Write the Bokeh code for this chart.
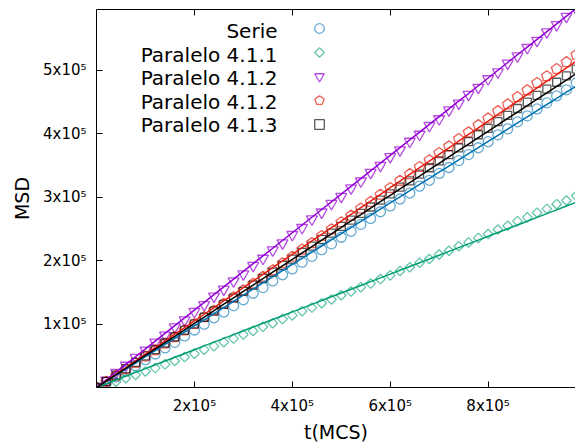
import numpy as np
from bokeh.plotting import figure
from bokeh.models import Range1d, LinearAxis, FixedTicker, Legend, LegendItem, Label
from bokeh.embed import file_html
from bokeh.resources import INLINE

# ---------------- data ----------------
t_mcs = [0, 20000, 40000, 60000, 80000, 100000, 120000, 140000, 160000, 180000,
         200000, 220000, 240000, 260000, 280000, 300000, 320000, 340000, 360000, 380000,
         400000, 420000, 440000, 460000, 480000, 500000, 520000, 540000, 560000, 580000,
         600000, 620000, 640000, 660000, 680000, 700000, 720000, 740000, 760000, 780000,
         800000, 820000, 840000, 860000, 880000, 900000, 920000, 940000, 960000, 980000]

msd_serie = [0, 8100, 16600, 25700, 34400, 43900, 52800, 62400, 71200, 81300,
             90700, 99800, 109900, 119000, 129200, 138300, 148600, 157500, 168000, 177800,
             186900, 197600, 206800, 217300, 226500, 236900, 246300, 257200, 266600, 277100,
             286300, 297200, 306600, 317500, 326700, 337600, 346900, 357800, 367200, 378000,
             387600, 398400, 407800, 418900, 428300, 439200, 448800, 459700, 469300, 480300]

msd_p411 = [0, 4400, 9200, 14600, 19700, 25300, 30600, 36500, 41900, 48000,
            53400, 59700, 65200, 71500, 77100, 83500, 89100, 95700, 101400, 107900,
            113700, 120400, 126000, 132900, 138700, 145500, 151300, 158200, 163900, 171000,
            176800, 183800, 189700, 196700, 202600, 209700, 215600, 222800, 228700, 235900,
            241900, 249100, 255000, 262300, 268300, 275600, 281600, 289000, 294900, 302300]

msd_p412a = [0, 11500, 23600, 34800, 47300, 58600, 71200, 82400, 95400, 106500,
             119600, 130500, 143800, 154900, 167900, 179000, 192300, 203500, 216600, 227700,
             241000, 252000, 265500, 276400, 289900, 301000, 314500, 325300, 338900, 350000,
             363800, 374500, 388000, 399000, 412800, 423500, 437500, 448200, 462000, 473000,
             486500, 497500, 511200, 522500, 535800, 547000, 560500, 572000, 585000, 597000]

msd_p412b = [0, 9200, 18700, 28900, 38600, 49000, 58900, 69500, 79400, 90200,
             100200, 111100, 121100, 132200, 142300, 153300, 163500, 174600, 184800, 196000,
             206200, 217500, 227700, 239000, 249400, 260600, 271000, 282300, 292700, 304000,
             314600, 325900, 336400, 347700, 358300, 369700, 380300, 391700, 402300, 413700,
             424300, 435800, 446400, 457900, 468600, 480100, 490800, 502300, 513000, 524500]

msd_p413 = [0, 9800, 19600, 29800, 39600, 49900, 59800, 70200, 80000, 90400,
            100300, 110800, 120700, 131200, 141000, 151600, 161500, 172100, 182000, 192500,
            202500, 213000, 223000, 233600, 243500, 254100, 264000, 274700, 284600, 295300,
            305200, 315900, 325800, 336500, 346500, 357200, 367100, 377800, 387800, 398500,
            408500, 419200, 429200, 439900, 449900, 460600, 470600, 481300, 491200, 502000]

# slopes of the fitted lines MSD = a * t
fit_slopes = [0.485, 0.298, 0.610, 0.525, 0.505]

series_names = ["Serie", "Paralelo 4.1.1", "Paralelo 4.1.2", "Paralelo 4.1.2", "Paralelo 4.1.3"]

x_ticks = [200000, 400000, 600000, 800000]
x_tick_labels = ["2x10\u2075", "4x10\u2075", "6x10\u2075", "8x10\u2075"]
y_ticks = [100000, 200000, 300000, 400000, 500000]
y_tick_labels = ["1x10\u2075", "2x10\u2075", "3x10\u2075", "4x10\u2075", "5x10\u2075"]

# ---------------- styles ----------------
FONT = "DejaVu Sans"
colors = ["#0072b2", "#009e73", "#9400d3", "#e51e10", "#000000"]
marker_alpha = [0.6, 0.6, 0.7, 0.7, 0.65]

p = figure(frame_width=479, frame_height=378, output_backend="svg", toolbar_location=None,
           title=None,
           x_range=Range1d(0, 978500), y_range=Range1d(0, 596000),
           min_border_left=96, min_border_right=0, min_border_top=9, min_border_bottom=30,
           x_axis_label="t(MCS)", y_axis_label="MSD")
p.outline_line_color = None
p.xgrid.visible = False
p.ygrid.visible = False
p.background_fill_color = "white"
p.border_fill_color = "white"

for ax, ticks, labels in ((p.xaxis[0], x_ticks, x_tick_labels), (p.yaxis[0], y_ticks, y_tick_labels)):
    ax.ticker = FixedTicker(ticks=ticks)
    ax.major_label_overrides = {float(k): v for k, v in zip(ticks, labels)}
    ax.major_tick_in = 6
    ax.major_tick_out = 0
    ax.minor_tick_line_color = None
    ax.major_tick_line_color = "black"
    ax.axis_line_color = "black"
    ax.major_label_text_font = FONT
    ax.major_label_text_font_size = "15px"
    ax.major_label_text_color = "black"
    ax.axis_label_text_font = FONT
    ax.axis_label_text_font_size = "19px"
    ax.axis_label_text_font_style = "normal"
    ax.axis_label_text_color = "black"

p.xaxis[0].major_label_standoff = 9
p.xaxis[0].axis_label_standoff = 3
p.yaxis[0].major_label_standoff = 10
p.yaxis[0].axis_label_standoff = 7

top = LinearAxis(ticker=FixedTicker(ticks=x_ticks), major_tick_in=6, major_tick_out=0,
                 minor_tick_line_color=None, major_label_text_font_size="0px",
                 major_label_standoff=0, axis_line_color="black",
                 major_label_overrides={float(k): "" for k in x_ticks})
p.add_layout(top, "above")

tt = np.array(t_mcs, dtype=float)

# points
r0 = p.scatter(t_mcs, msd_serie, marker="circle", size=10, fill_color=None,
               line_color=colors[0], line_alpha=marker_alpha[0], line_width=1.3)
r1 = p.ngon(t_mcs, msd_p411, radius=4.8, radius_units="screen", n=4, fill_color=None,
            line_color=colors[1], line_alpha=marker_alpha[1], line_width=1.3)
r2 = p.scatter(t_mcs, msd_p412a, marker="inverted_triangle", size=11, fill_color=None,
               line_color=colors[2], line_alpha=marker_alpha[2], line_width=1.3)
r3 = p.ngon(t_mcs, msd_p412b, radius=5.5, radius_units="screen", n=5, fill_color=None,
            line_color=colors[3], line_alpha=marker_alpha[3], line_width=1.3)
r4 = p.scatter(t_mcs, msd_p413, marker="square", size=8, fill_color=None,
               line_color=colors[4], line_alpha=marker_alpha[4], line_width=1.3)
renderers = [r0, r1, r2, r3, r4]

# fitted lines
for slope, c in zip(fit_slopes, colors):
    p.line(tt, slope * tt, line_color=c, line_width=1.5)

# legend: symbols (text is drawn to their left, gnuplot style)
legend = Legend(items=[LegendItem(label=" ", renderers=[r]) for r in renderers],
                location=(211, 251), padding=0, margin=0, spacing=0,
                glyph_width=24, glyph_height=24, label_height=24, label_standoff=0,
                label_text_font_size="10px", border_line_color=None,
                background_fill_alpha=0)
p.add_layout(legend, "center")

for name, yy in zip(series_names, [357, 333, 310, 286, 263]):
    p.add_layout(Label(x=181, y=yy, x_units="screen", y_units="screen", text=name,
                       text_align="right", text_baseline="middle",
                       text_font=FONT, text_font_size="20px", text_color="black"))

open("out.html", "w").write(file_html(p, INLINE))
